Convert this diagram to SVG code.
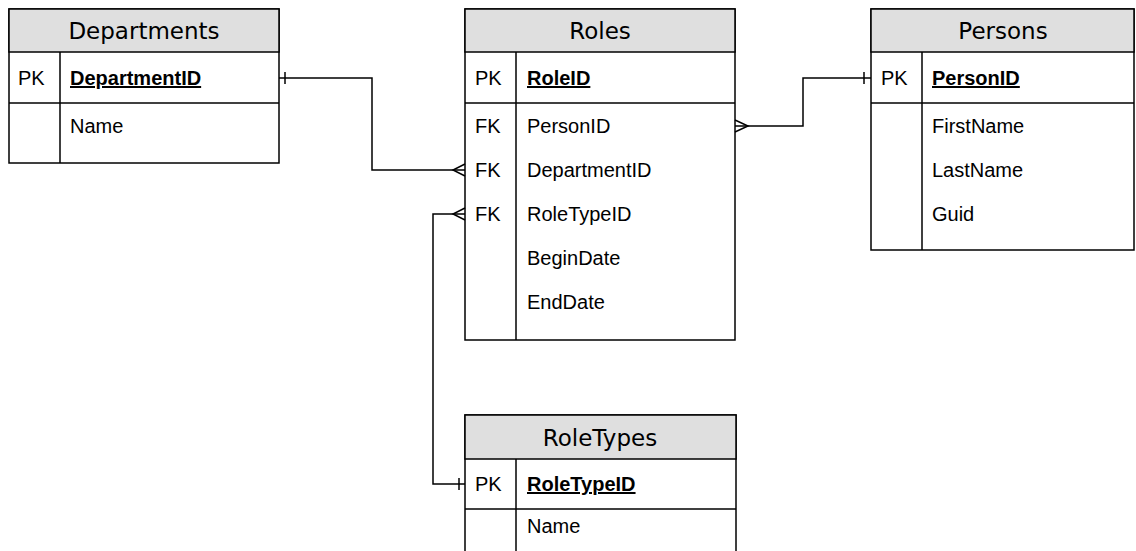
<svg xmlns="http://www.w3.org/2000/svg" width="1136" height="551" viewBox="0 0 1136 551">
<style>
.box{fill:#ffffff;stroke:#000;stroke-width:1.5}
.hdr{fill:#dfdfdf;stroke:#000;stroke-width:1.5}
.ln{fill:none;stroke:#000;stroke-width:1.5}
.ht{font-family:"DejaVu Sans",Verdana,sans-serif;font-size:23px;fill:#000;text-anchor:middle}
.t{font-family:"Liberation Sans",Arial,sans-serif;font-size:20px;fill:#000}
.pk{font-weight:bold;text-decoration:underline}
.c{fill:none;stroke:#000;stroke-width:1.5}
</style>
<rect width="1136" height="551" fill="#fff"/>
<g id="departments">
<rect class="box" x="9" y="9" width="270" height="154"/>
<rect class="hdr" x="9" y="9" width="270" height="43"/>
<line class="ln" x1="9" y1="103" x2="279" y2="103"/>
<line class="ln" x1="60" y1="52" x2="60" y2="163"/>
<text class="ht" x="144" y="39">Departments</text>
<text class="t" x="18" y="85">PK</text>
<text class="t pk" x="70" y="85">DepartmentID</text>
<text class="t" x="70" y="133">Name</text>
</g>
<g id="roles">
<rect class="box" x="465" y="9" width="270" height="331"/>
<rect class="hdr" x="465" y="9" width="270" height="43"/>
<line class="ln" x1="465" y1="103" x2="735" y2="103"/>
<line class="ln" x1="516" y1="52" x2="516" y2="340"/>
<text class="ht" x="600" y="39">Roles</text>
<text class="t" x="475" y="85">PK</text>
<text class="t pk" x="527" y="85">RoleID</text>
<text class="t" x="475" y="133">FK</text>
<text class="t" x="527" y="133">PersonID</text>
<text class="t" x="475" y="177">FK</text>
<text class="t" x="527" y="177">DepartmentID</text>
<text class="t" x="475" y="221">FK</text>
<text class="t" x="527" y="221">RoleTypeID</text>
<text class="t" x="527" y="265">BeginDate</text>
<text class="t" x="527" y="309">EndDate</text>
</g>
<g id="persons">
<rect class="box" x="871" y="9" width="263" height="241"/>
<rect class="hdr" x="871" y="9" width="263" height="43"/>
<line class="ln" x1="871" y1="103" x2="1134" y2="103"/>
<line class="ln" x1="922" y1="52" x2="922" y2="250"/>
<text class="ht" x="1003" y="39">Persons</text>
<text class="t" x="881" y="85">PK</text>
<text class="t pk" x="932" y="85">PersonID</text>
<text class="t" x="932" y="133">FirstName</text>
<text class="t" x="932" y="177">LastName</text>
<text class="t" x="932" y="221">Guid</text>
</g>
<g id="roletypes">
<rect class="box" x="465" y="415" width="271" height="160"/>
<rect class="hdr" x="465" y="415" width="271" height="44"/>
<line class="ln" x1="465" y1="509" x2="736" y2="509"/>
<line class="ln" x1="516" y1="459" x2="516" y2="575"/>
<text class="ht" x="600" y="446">RoleTypes</text>
<text class="t" x="475" y="491">PK</text>
<text class="t pk" x="527" y="491">RoleTypeID</text>
<text class="t" x="527" y="533">Name</text>
</g>
<g id="connectors">
<polyline class="c" points="279,78 372,78 372,170 465,170"/>
<line class="c" x1="285" y1="72" x2="285" y2="84"/>
<polyline class="c" points="465,164 453,170 465,176"/>
<polyline class="c" points="735,126 803,126 803,78 871,78"/>
<line class="c" x1="864" y1="72" x2="864" y2="84"/>
<polyline class="c" points="735,120 748,126 735,132"/>
<polyline class="c" points="465,484 433,484 433,214 465,214"/>
<line class="c" x1="459" y1="478" x2="459" y2="490"/>
<polyline class="c" points="465,208 453,214 465,220"/>
</g>
</svg>
